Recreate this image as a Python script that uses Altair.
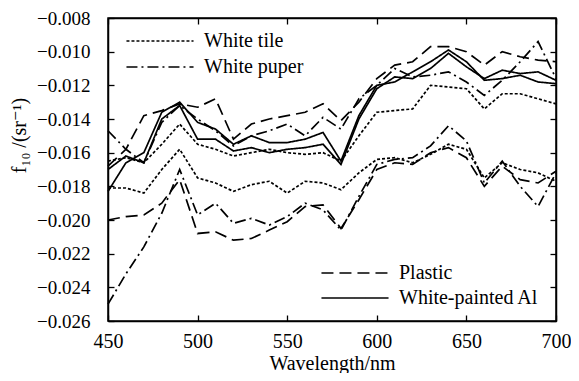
import altair as alt
import pandas as pd

wavelength = list(range(450, 701, 10))

white_tile_1 = [-0.0165, -0.0163, -0.0166, -0.0155, -0.0143, -0.0155, -0.0158, -0.0162, -0.0160, -0.0158,
                -0.0160, -0.0161, -0.0160, -0.0165, -0.0150, -0.0136, -0.0135, -0.0134, -0.0120, -0.0121,
                -0.0122, -0.0134, -0.0125, -0.0125, -0.0128, -0.0131]
white_tile_2 = [-0.0181, -0.0181, -0.0184, -0.0170, -0.0158, -0.0175, -0.0178, -0.0183, -0.0179, -0.0177,
                -0.0184, -0.0177, -0.0178, -0.0182, -0.0172, -0.0164, -0.0163, -0.0166, -0.0161, -0.0155,
                -0.0158, -0.0175, -0.0166, -0.0170, -0.0172, -0.0177]
white_puper_1 = [-0.0147, -0.0158, -0.0166, -0.0142, -0.0132, -0.0140, -0.0147, -0.0156, -0.0150, -0.0147,
                 -0.0143, -0.0150, -0.0139, -0.0146, -0.0128, -0.0120, -0.0110, -0.0115, -0.0114, -0.0112,
                 -0.0118, -0.0126, -0.0117, -0.0106, -0.0094, -0.0116]
white_puper_2 = [-0.0250, -0.0232, -0.0216, -0.0196, -0.0170, -0.0197, -0.0190, -0.0202, -0.0199, -0.0203,
                 -0.0198, -0.0190, -0.0194, -0.0206, -0.0186, -0.0167, -0.0164, -0.0163, -0.0156, -0.0144,
                 -0.0153, -0.0178, -0.0165, -0.0180, -0.0192, -0.0172]
plastic_1 = [-0.0168, -0.0158, -0.0138, -0.0135, -0.0131, -0.0133, -0.0128, -0.0152, -0.0143, -0.0140,
             -0.0138, -0.0136, -0.0131, -0.0141, -0.0130, -0.0116, -0.0108, -0.0106, -0.0097, -0.0097,
             -0.0100, -0.0108, -0.0100, -0.0103, -0.0105, -0.0106]
plastic_2 = [-0.0200, -0.0198, -0.0197, -0.0190, -0.0176, -0.0208, -0.0207, -0.0212, -0.0211, -0.0206,
             -0.0201, -0.0192, -0.0191, -0.0205, -0.0188, -0.0170, -0.0166, -0.0167, -0.0160, -0.0157,
             -0.0163, -0.0180, -0.0168, -0.0176, -0.0178, -0.0171]
al_1 = [-0.0183, -0.0166, -0.0160, -0.0136, -0.0130, -0.0142, -0.0146, -0.0155, -0.0150, -0.0154,
        -0.0154, -0.0152, -0.0148, -0.0165, -0.0138, -0.0120, -0.0118, -0.0112, -0.0106, -0.0099,
        -0.0106, -0.0117, -0.0116, -0.0114, -0.0118, -0.0119]
al_2 = [-0.0170, -0.0162, -0.0166, -0.0140, -0.0132, -0.0152, -0.0152, -0.0159, -0.0157, -0.0160,
        -0.0158, -0.0157, -0.0155, -0.0167, -0.0140, -0.0122, -0.0115, -0.0116, -0.0110, -0.0101,
        -0.0109, -0.0116, -0.0111, -0.0113, -0.0112, -0.0117]

x_ticks = [450, 500, 550, 600, 650, 700]
y_ticks = [-0.026, -0.024, -0.022, -0.020, -0.018, -0.016, -0.014, -0.012, -0.010, -0.008]

legend_a_names = ["White tile", "White puper"]
legend_b_names = ["Plastic", "White-painted Al"]

series = [
    ("White tile", "1", white_tile_1), ("White tile", "2", white_tile_2),
    ("White puper", "1", white_puper_1), ("White puper", "2", white_puper_2),
    ("Plastic", "1", plastic_1), ("Plastic", "2", plastic_2),
    ("White-painted Al", "1", al_1), ("White-painted Al", "2", al_2),
]
rows = []
for mat, run, vals in series:
    for w, v in zip(wavelength, vals):
        rows.append({"wl": w, "f": v, "material": mat, "run": run})
df = pd.DataFrame(rows)

FONT = "'Liberation Serif', 'Times New Roman', 'DejaVu Serif', serif"
TICK = alt.ExprRef("-6")

xscale = alt.Scale(domain=[450, 700], nice=False, zero=False)
yscale = alt.Scale(domain=[-0.026, -0.008], nice=False, zero=False)

common_axis = dict(grid=False, tickSize=TICK, tickColor="black", tickWidth=1.3,
                   domainColor="black", domainWidth=1.5, labelFont=FONT, labelColor="black",
                   labelFlush=False, titleFont=FONT, titleColor="black", titleFontWeight="normal")

x_bottom = alt.Axis(values=x_ticks, format="d", labelFontSize=20, labelPadding=16,
                    title="Wavelength/nm", titleFontSize=20, titleBaseline="alphabetic",
                    titleY=48, **common_axis)
y_left = alt.Axis(values=y_ticks, format=".3f", labelFontSize=19, labelPadding=24,
                  title="f\u2081\u2080 /(sr\u207b\u00b9)", titleFontSize=20, titleAngle=270,
                  titleBaseline="middle", titleAlign="center", titleX=-89, titleY=117,
                  **common_axis)
x_top = alt.Axis(values=x_ticks, orient="top", labels=False, title=None, **common_axis)
y_right = alt.Axis(values=y_ticks, orient="right", labels=False, title=None, **common_axis)

legend_common = dict(title=None, orient="none", symbolType="M-5,0H5", symbolSize=180,
                     symbolStrokeWidth=1.6, symbolStrokeColor="black", symbolFillColor="transparent",
                     labelFont=FONT, labelFontSize=20, labelColor="black", labelOffset=34,
                     labelLimit=300, padding=0)

layer_a = alt.Chart(df).transform_filter(
    alt.FieldOneOfPredicate(field="material", oneOf=legend_a_names)
).mark_line(color="black", strokeWidth=1.7).encode(
    x=alt.X("wl:Q", scale=xscale, axis=x_bottom),
    y=alt.Y("f:Q", scale=yscale, axis=y_left),
    strokeDash=alt.StrokeDash("material:N",
                              scale=alt.Scale(domain=legend_a_names, range=[[3, 2], [11, 4, 2, 4]]),
                              legend=alt.Legend(legendX=42, legendY=13, rowPadding=6, **legend_common)),
    detail="run:N",
)

layer_b = alt.Chart(df).transform_filter(
    alt.FieldOneOfPredicate(field="material", oneOf=legend_b_names)
).mark_line(color="black", strokeWidth=1.7).encode(
    x=alt.X("wl:Q", scale=xscale, axis=x_top),
    y=alt.Y("f:Q", scale=yscale, axis=y_right),
    strokeDash=alt.StrokeDash("material:N",
                              scale=alt.Scale(domain=legend_b_names, range=[[12, 6], [1, 0]]),
                              legend=alt.Legend(legendX=237, legendY=245, rowPadding=5, **legend_common)),
    detail="run:N",
)

chart = alt.layer(layer_a, layer_b).resolve_scale(
    strokeDash="independent"
).resolve_axis(
    x="independent", y="independent"
).properties(
    width=448, height=303,
    autosize=alt.AutoSizeParams(type="none"),
    padding={"left": 100, "top": 10, "right": 15, "bottom": 52},
    background="white",
).configure_view(stroke="black", strokeWidth=1.5)

chart.save("out.html", embed_options={"renderer": "svg", "actions": False})
